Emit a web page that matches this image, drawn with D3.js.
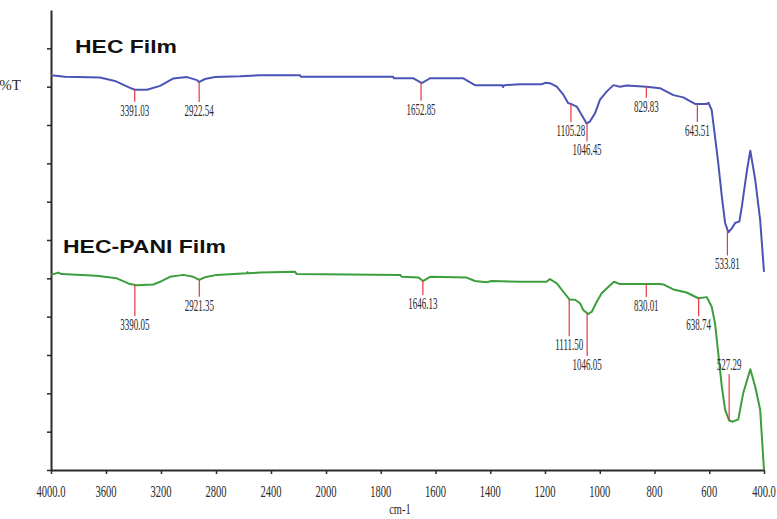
<!DOCTYPE html>
<html>
<head>
<meta charset="utf-8">
<script src="https://cdn.jsdelivr.net/npm/d3@7"></script>
<style>
  body { margin: 0; background: #fff; }
  svg { display: block; }
</style>
</head>
<body>
<svg id="chart" width="777" height="519"></svg>
<script>
// wavenumber (cm-1), %T
let hecSpectrum = [
  [4000, 103.0], [3898, 102.6], [3644, 102.4], [3535, 101.5], [3425, 99.7],
  [3389, 99.2], [3302, 99.2], [3207, 100.2], [3113, 102.1], [3011, 102.5],
  [2938, 101.7], [2924, 101.2], [2880, 102.0], [2807, 102.5], [2625, 102.7],
  [2480, 103.0], [2189, 103.0], [2182, 102.6], [1755, 102.6], [1752, 102.2],
  [1682, 102.2], [1650, 100.9], [1620, 102.2], [1500, 102.2], [1456, 100.4],
  [1356, 100.4], [1353, 99.9], [1349, 100.4], [1291, 100.6], [1212, 100.6],
  [1200, 101.0], [1182, 100.9], [1157, 100.0], [1133, 97.9], [1115, 95.7],
  [1102, 95.4], [1084, 94.8], [1066, 92.6], [1048, 90.4], [1036, 90.9],
  [1017, 93.1], [999, 96.6], [975, 98.7], [950, 100.4], [926, 100.0],
  [902, 100.3], [829, 100.0], [780, 99.6], [731, 97.8], [695, 97.2],
  [652, 95.5], [609, 95.5], [603, 95.8], [591, 93.9], [579, 87.0],
  [567, 80.0], [554, 71.3], [542, 64.4], [530, 62.0], [517, 63.1],
  [505, 64.5], [490, 64.8], [481, 68.7], [462, 78.3], [450, 83.3],
  [432, 75.7], [414, 65.2], [400, 51.7]
];

let paniSpectrum = [
  [4000, 50.9], [3947, 51.5], [3922, 51.1], [3668, 50.7], [3522, 50.0],
  [3425, 48.5], [3377, 48.2], [3256, 48.4], [3207, 49.1], [3135, 50.4],
  [3038, 50.9], [2965, 50.4], [2921, 49.6], [2880, 50.3], [2795, 50.9],
  [2577, 51.3], [2572, 51.6], [2566, 51.3], [2480, 51.5], [2225, 51.7],
  [2213, 51.1], [1729, 50.9], [1723, 50.4], [1662, 50.2], [1646, 49.3],
  [1620, 50.4], [1486, 50.2], [1456, 49.3], [1413, 49.0], [1395, 49.3],
  [1291, 49.1], [1194, 49.1], [1182, 49.8], [1157, 48.7], [1133, 46.5],
  [1111, 44.5], [1090, 44.4], [1072, 43.5], [1060, 41.7], [1042, 40.7],
  [1029, 41.3], [1011, 43.9], [993, 46.1], [968, 47.8], [948, 49.1],
  [926, 48.5], [780, 48.5], [768, 48.4], [731, 47.1], [683, 46.3],
  [640, 44.8], [609, 45.1], [591, 42.6], [579, 38.3], [567, 30.4],
  [554, 21.7], [542, 15.7], [527, 12.9], [514, 12.6], [494, 13.2],
  [476, 20.0], [450, 26.3], [432, 21.7], [414, 15.7], [400, 0]
];

let hecPeaks = [3391.03, 2922.54, 1652.85, 1105.28, 1046.45, 829.83, 643.51, 533.81];
let paniPeaks = [3390.05, 2921.35, 1646.13, 1111.50, 1046.05, 830.01, 638.74, 527.29];

let seriesNames = ["HEC Film", "HEC-PANI Film"];
let xTicks = [4000, 3600, 3200, 2800, 2400, 2000, 1800, 1600, 1400, 1200, 1000, 800, 600, 400];
let yTicks = [0, 10, 20, 30, 40, 50, 60, 70, 80, 90, 100, 110];

// layout / style
let hecColor = "#4b54b6", paniColor = "#3c9e3c", peakColor = "#e8353d", inkColor = "#2a2a2a";
let hecPeakLen = [12, 20, 18, 18, 18, 11, 18, 26];
let paniPeakLen = [31, 17, 14, 37, 43, 13, 18, -46];

let svg = d3.select("#chart");

// FTIR axis: scale change at 2000 cm-1
let x = d3.scaleLinear().domain([4000, 2000, 400]).range([51, 326, 764]);
let y = d3.scaleLinear().domain([0, 120]).range([470, 10]);

let line = d3.line()
    .x(d => x(d[0]))
    .y(d => y(d[1]));

function valueAt(data, wn) {
    for (let i = 0; i < data.length - 1; i++) {
        let a = data[i], b = data[i + 1];
        if (wn <= a[0] && wn >= b[0]) {
            let t = (a[0] - wn) / (a[0] - b[0]);
            return a[1] + t * (b[1] - a[1]);
        }
    }
    return data[data.length - 1][1];
}

// axes
let xAxis = svg.append("g")
    .attr("transform", "translate(0,470)")
    .call(d3.axisBottom(x).tickValues(xTicks).tickSize(4).tickSizeOuter(0).tickFormat(""));
let yAxis = svg.append("g")
    .attr("transform", "translate(51,0)")
    .call(d3.axisLeft(y).tickValues(yTicks).tickSize(4).tickSizeOuter(0).tickFormat(""));

[xAxis, yAxis].forEach(g => {
    g.select(".domain").attr("stroke", inkColor).attr("stroke-width", 2);
    g.selectAll(".tick line").attr("stroke", inkColor).attr("stroke-width", 1.5);
});

// x tick labels, narrow serif
svg.append("g").selectAll("text")
    .data(xTicks)
    .join("text")
    .attr("transform", d => "translate(" + x(d) + ",497) scale(0.66,1)")
    .attr("text-anchor", "middle")
    .attr("font-family", "Liberation Serif, serif")
    .attr("font-size", 16)
    .attr("fill", inkColor)
    .text(d => (d === 4000 || d === 400) ? d.toFixed(1) : d);

svg.append("text")
    .attr("transform", "translate(" + x(1730) + ",514) scale(0.75,1)")
    .attr("text-anchor", "middle")
    .attr("font-family", "Liberation Serif, serif")
    .attr("font-size", 14)
    .attr("fill", inkColor)
    .text("cm-1");

svg.append("text")
    .attr("x", 21)
    .attr("y", 90)
    .attr("text-anchor", "end")
    .attr("font-family", "Liberation Serif, serif")
    .attr("font-size", 15)
    .attr("fill", inkColor)
    .text("%T");

// spectra
svg.append("path")
    .datum(hecSpectrum)
    .attr("fill", "none")
    .attr("stroke", hecColor)
    .attr("stroke-width", 2)
    .attr("stroke-linejoin", "round")
    .attr("d", line);

svg.append("path")
    .datum(paniSpectrum)
    .attr("fill", "none")
    .attr("stroke", paniColor)
    .attr("stroke-width", 2)
    .attr("stroke-linejoin", "round")
    .attr("d", line);

// peak markers
function drawPeaks(peaks, lens, data) {
    let g = svg.append("g");
    peaks.forEach(function (p, i) {
        let px = x(p);
        let y0 = y(valueAt(data, p));
        let y1 = y0 + lens[i];
        g.append("line")
            .attr("x1", px).attr("x2", px)
            .attr("y1", y0).attr("y2", y1)
            .attr("stroke", peakColor)
            .attr("stroke-width", 1.2);
        let ty = lens[i] > 0 ? y1 + 14 : y1 - 4;
        g.append("text")
            .attr("transform", "translate(" + px + "," + ty + ") scale(0.56,1)")
            .attr("text-anchor", "middle")
            .attr("font-family", "Liberation Serif, serif")
            .attr("font-size", 16)
            .attr("fill", inkColor)
            .text(p.toFixed(2));
    });
}
drawPeaks(hecPeaks, hecPeakLen, hecSpectrum);
drawPeaks(paniPeaks, paniPeakLen, paniSpectrum);

// series titles
svg.append("text")
    .attr("x", 75).attr("y", 53)
    .attr("font-family", "Liberation Sans, Arial, sans-serif")
    .attr("font-weight", "bold")
    .attr("font-size", 18)
    .attr("textLength", 102)
    .attr("lengthAdjust", "spacingAndGlyphs")
    .attr("fill", "#111")
    .text(seriesNames[0]);

svg.append("text")
    .attr("x", 63).attr("y", 253)
    .attr("font-family", "Liberation Sans, Arial, sans-serif")
    .attr("font-weight", "bold")
    .attr("font-size", 18)
    .attr("textLength", 163)
    .attr("lengthAdjust", "spacingAndGlyphs")
    .attr("fill", "#111")
    .text(seriesNames[1]);
</script>
</body>
</html>
